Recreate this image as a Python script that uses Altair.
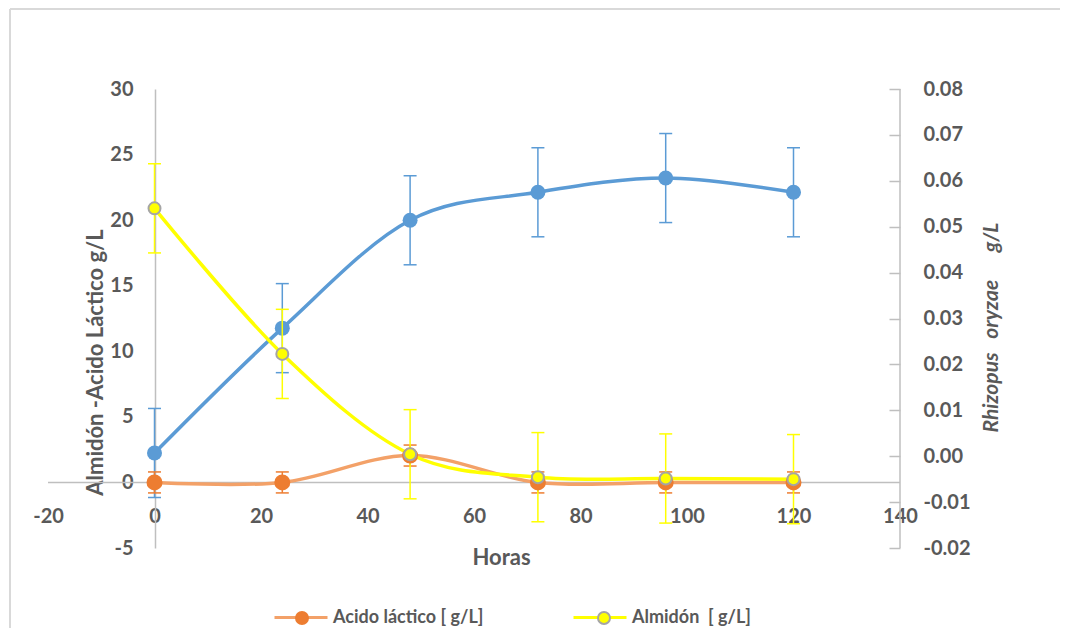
import altair as alt
import pandas as pd

# ---------------- data ----------------
horas = [0, 24, 48, 72, 96, 120]
acido = [0.0, 0.0, 2.05, 0.0, 0.0, 0.0]
acido_err = [0.8, 0.8, 0.8, 0.8, 0.8, 0.8]
almidon = [20.9, 9.8, 2.15, 0.4, 0.3, 0.25]
almidon_err = [3.4, 3.4, 3.4, 3.4, 3.4, 3.4]
rhizopus = [0.0007, 0.0279, 0.0514, 0.0575, 0.0606, 0.0575]
rhizopus_err = [0.0097, 0.0097, 0.0097, 0.0097, 0.0097, 0.0097]

serie_names = ["Acido láctico [ g/L]", "Almidón\u00a0 [ g/L]"]
serie_names_b = ["Acido láctico [ g/L]\u00a0", "Almidón\u00a0 [ g/L]\u00a0"]

x_ticks = [-20, 0, 20, 40, 60, 80, 100, 120, 140]
y_left_ticks = [-5, 0, 5, 10, 15, 20, 25, 30]
y_right_ticks = [-0.02, -0.01, 0.0, 0.01, 0.02, 0.03, 0.04, 0.05, 0.06, 0.07, 0.08]

# ---------------- styles ----------------
FONT = "Lato"
TXT = "#595959"
AX = "#bfbfbf"
ORANGE = "#ed7d31"
ORANGE_LINE = "#f3a168"
YELLOW = "#ffff00"
GRAY = "#a5a5a5"
BLUE = "#5b9bd5"

W, H = 852, 459
MINUS_FIX = "replace(datum.label, '\u2212', '-')"

x_axis = alt.Axis(
    values=x_ticks, title="Horas", orient="bottom", offset=-44,
    domain=False, ticks=False, labelPadding=2, format="d", labelFlush=False,
    labelExpr=MINUS_FIX,
    titleX=453, titleY=53, titleBaseline="middle",
)
yl_axis = alt.Axis(
    values=y_left_ticks, title="Almidón -Acido Láctico g/L", orient="left",
    offset=-107, domain=True, domainColor=AX, domainWidth=1.5,
    ticks=False, labelPadding=22, format="d", labelFlush=False,
    labelExpr=MINUS_FIX,
    titleX=-60, titleY=273, titleAngle=270, titleBaseline="middle", titleAlign="center",
)
yr_axis = alt.Axis(
    values=y_right_ticks,
    title="Rhizopus\u00a0\u00a0\u00a0oryzae\u00a0\u00a0\u00a0\u00a0\u00a0\u00a0g/L",
    orient="right",
    offset=-11, domain=False, ticks=True, tickSize=11, tickColor=AX, tickWidth=1.5,
    labelPadding=23, format=".2f", labelFlush=False,
    labelExpr=MINUS_FIX,
    titleX=102, titleY=238, titleAngle=270, titleBaseline="middle", titleAlign="center",
    titleFontStyle="italic", titleFontSize=21,
)

x_scale = alt.Scale(domain=[-20, 140], nice=False, zero=False)
yl_scale = alt.Scale(domain=[-5, 30], nice=False, zero=False)
yr_scale = alt.Scale(domain=[-0.02, 0.08], nice=False, zero=False)


def frame(vals, errs, name, name_b):
    return pd.DataFrame({
        "hora": horas,
        "valor": vals,
        "lo": [v - e for v, e in zip(vals, errs)],
        "hi": [v + e for v, e in zip(vals, errs)],
        "serie": [name] * len(horas),
        "serie_b": [name_b] * len(horas),
    })


df_ac = frame(acido, acido_err, serie_names[0], serie_names_b[0])
df_al = frame(almidon, almidon_err, serie_names[1], serie_names_b[1])
df_left = pd.concat([df_ac, df_al], ignore_index=True)
df_rh = frame(rhizopus, rhizopus_err, "Rhizopus", "Rhizopus")


def X():
    return alt.X("hora:Q", scale=x_scale, axis=x_axis)


def YL(field):
    return alt.Y(field, type="quantitative", scale=yl_scale, axis=yl_axis)


def YR(field):
    return alt.Y(field, type="quantitative", scale=yr_scale, axis=yr_axis)


# ---------------- decorations ----------------
one = pd.DataFrame({"k": [0]})
border_top = alt.Chart(one).mark_rule(color="#d9d9d9", strokeWidth=2).encode(
    x=alt.value(-38), x2=alt.value(1100), y=alt.value(-80)
)
border_left = alt.Chart(one).mark_rule(color="#d9d9d9", strokeWidth=2).encode(
    x=alt.value(-38), y=alt.value(-80), y2=alt.value(700)
)
right_domain = alt.Chart(one).mark_rule(color=AX, strokeWidth=1.5).encode(
    x=alt.value(W), y=alt.value(0), y2=alt.value(H)
)

# ---------------- right (Rhizopus) ----------------
base_r = alt.Chart(df_rh)
r_err = base_r.mark_rule(color=BLUE, strokeWidth=1.5).encode(x=X(), y=YR("lo"), y2="hi:Q")
r_cap_lo = base_r.mark_tick(color=BLUE, orient="horizontal", size=13, thickness=1.5, opacity=1).encode(
    x=X(), y=YR("lo"))
r_cap_hi = base_r.mark_tick(color=BLUE, orient="horizontal", size=13, thickness=1.5, opacity=1).encode(
    x=X(), y=YR("hi"))
r_line = base_r.mark_line(color=BLUE, strokeWidth=3.5, interpolate="cardinal").encode(
    x=X(), y=YR("valor"))
r_pts = base_r.mark_point(filled=True, color=BLUE, size=225, opacity=1).encode(
    x=X(), y=YR("valor"))
right = alt.layer(r_line, r_err, r_cap_lo, r_cap_hi, r_pts)

# ---------------- left (Acido / Almidon) ----------------
zero_line = alt.Chart(pd.DataFrame({"valor": [0]})).mark_rule(color=AX, strokeWidth=1.5).encode(
    y=YL("valor"), x=alt.value(0), x2=alt.value(W))


def err_layers(df, col):
    b = alt.Chart(df)
    rule = b.mark_rule(color=col, strokeWidth=1.5).encode(x=X(), y=YL("lo"), y2="hi:Q")
    lo = b.mark_tick(color=col, orient="horizontal", size=13, thickness=1.5, opacity=1).encode(
        x=X(), y=YL("lo"))
    hi = b.mark_tick(color=col, orient="horizontal", size=13, thickness=1.5, opacity=1).encode(
        x=X(), y=YL("hi"))
    return [rule, lo, hi]


LEG_Y = 527
cpA = 83
legA = alt.Legend(
    orient="none", legendX=225, legendY=LEG_Y - 26.5, direction="horizontal", title=None,
    symbolType="stroke", symbolSize=2809, symbolStrokeWidth=3,
    labelFont=FONT, labelFontSize=18, labelFontWeight="bold", labelColor=TXT,
    labelOffset=4, columnPadding=cpA, padding=0, labelLimit=0,
)
legB = alt.Legend(
    orient="none", legendX=245, legendY=LEG_Y - 7, direction="horizontal", title=None,
    symbolType="circle", symbolSize=144, symbolStrokeWidth=2,
    labelFont=FONT, labelFontSize=18, labelFontWeight="bold", labelColor="transparent",
    labelExpr="''",
    labelOffset=4, columnPadding=279, padding=0, labelLimit=0,
)

fill_scale = alt.Scale(domain=serie_names_b, range=[ORANGE, YELLOW])
stroke_scale = alt.Scale(domain=serie_names_b, range=[ORANGE, GRAY])

l_line = alt.Chart(df_left).mark_line(strokeWidth=3.5, interpolate="cardinal").encode(
    x=X(),
    y=YL("valor"),
    color=alt.Color("serie:N", scale=alt.Scale(domain=serie_names, range=[ORANGE_LINE, YELLOW]),
                    legend=legA),
)


def pts(df, size):
    return alt.Chart(df).mark_point(filled=True, opacity=1, strokeWidth=2, size=size).encode(
        x=X(),
        y=YL("valor"),
        fill=alt.Fill("serie_b:N", scale=fill_scale, legend=legB),
        stroke=alt.Stroke("serie_b:N", scale=stroke_scale, legend=legB),
    )


left = alt.layer(
    zero_line,
    *err_layers(df_ac, ORANGE),
    *err_layers(df_al, YELLOW),
    l_line,
    pts(df_ac, 196),
    pts(df_al, 144),
)

chart = alt.layer(right, left, border_top, border_left, right_domain).resolve_scale(
    y="independent"
).properties(
    width=W, height=H, autosize="none",
    padding={"left": 40, "top": 81, "right": 160, "bottom": 80},
    background="white",
).configure_view(stroke=None).configure_axis(
    grid=False, labelFont=FONT, labelFontSize=20, labelFontWeight="bold", labelColor=TXT,
    titleFont=FONT, titleFontSize=22, titleFontWeight="bold", titleColor=TXT,
)

chart.save("out.html", embed_options={"renderer": "svg", "actions": False})
